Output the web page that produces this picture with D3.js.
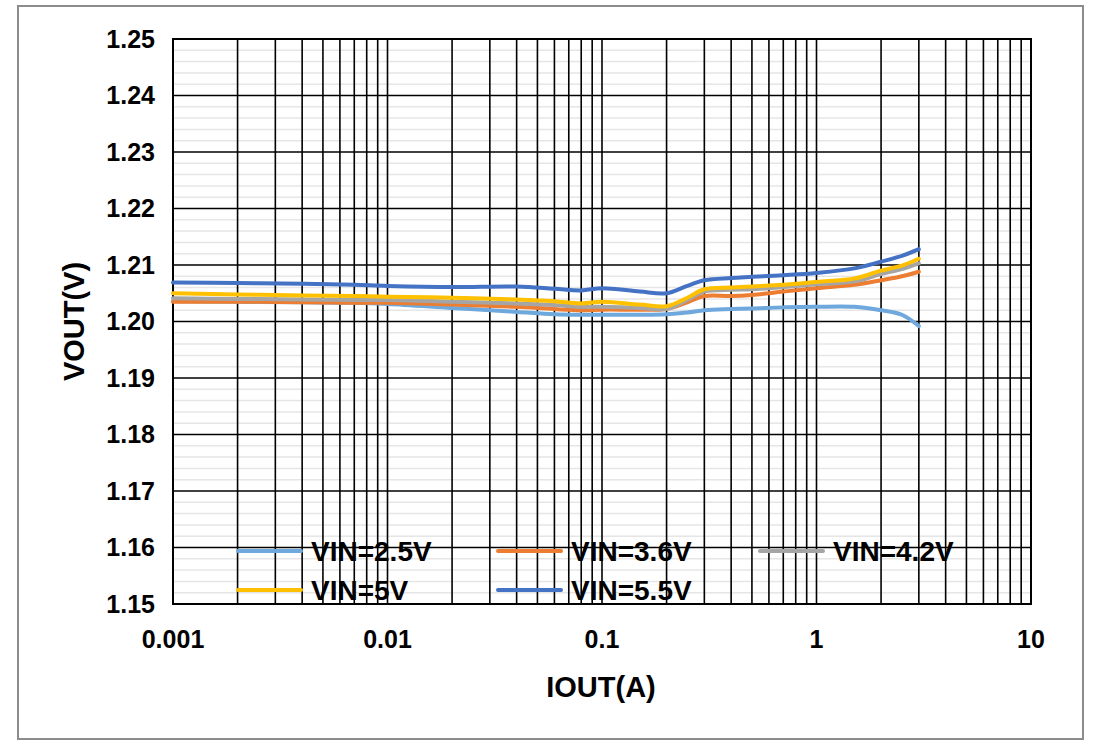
<!DOCTYPE html>
<html>
<head>
<meta charset="utf-8">
<script src="https://cdn.jsdelivr.net/npm/d3@7"></script>
<style>
  body { margin: 0; background: #fff; }
  text { font-family: "Liberation Sans", Arial, sans-serif; font-weight: bold; fill: #000; }
</style>
</head>
<body>
<svg id="chart"></svg>
<script>
// output current (A)
const currents = [0.001, 0.002, 0.004, 0.007, 0.01, 0.02, 0.04, 0.06, 0.08, 0.1, 0.15, 0.2, 0.25, 0.3, 0.4, 0.5, 0.7, 1, 1.5, 2, 2.5, 3];

const vin25 = [1.2036, 1.2035, 1.2034, 1.2033, 1.2031, 1.2024, 1.2017, 1.2013, 1.2012, 1.2012, 1.2012, 1.2013, 1.2016, 1.2020, 1.2022, 1.2023, 1.2025, 1.2026, 1.2026, 1.2020, 1.2012, 1.1992];
const vin36 = [1.2035, 1.2035, 1.2034, 1.2033, 1.2033, 1.2030, 1.2026, 1.2022, 1.2020, 1.2021, 1.2021, 1.2022, 1.2034, 1.2045, 1.2045, 1.2047, 1.2053, 1.2059, 1.2065, 1.2073, 1.2080, 1.2088];
const vin42 = [1.2041, 1.2040, 1.2039, 1.2038, 1.2038, 1.2035, 1.2032, 1.2029, 1.2026, 1.2026, 1.2024, 1.2022, 1.2038, 1.2053, 1.2056, 1.2057, 1.2061, 1.2066, 1.2071, 1.2084, 1.2093, 1.2103];
const vin50 = [1.2050, 1.2048, 1.2046, 1.2045, 1.2044, 1.2042, 1.2039, 1.2036, 1.2032, 1.2035, 1.2030, 1.2027, 1.2042, 1.2057, 1.2060, 1.2062, 1.2065, 1.2070, 1.2076, 1.2090, 1.2099, 1.2111];
const vin55 = [1.2069, 1.2068, 1.2067, 1.2065, 1.2063, 1.2061, 1.2062, 1.2058, 1.2055, 1.2059, 1.2053, 1.2050, 1.2063, 1.2073, 1.2077, 1.2079, 1.2082, 1.2086, 1.2094, 1.2106, 1.2116, 1.2128];

const seriesNames = ["VIN=2.5V", "VIN=3.6V", "VIN=4.2V", "VIN=5V", "VIN=5.5V"];
const seriesColors = ["#6fa8dc", "#ed7d31", "#a5a5a5", "#ffc000", "#4472c4"];
const seriesValues = [vin25, vin36, vin42, vin50, vin55];

const xTickValues = [0.001, 0.01, 0.1, 1, 10];
const xTickLabels = ["0.001", "0.01", "0.1", "1", "10"];
const yTickValues = [1.15, 1.16, 1.17, 1.18, 1.19, 1.20, 1.21, 1.22, 1.23, 1.24, 1.25];

const W = 1102, H = 749;
const M = { top: 39, right: 71, bottom: 145, left: 173 };

const svg = d3.select("#chart")
  .attr("width", W)
  .attr("height", H);

// outer frame
svg.append("rect")
  .attr("x", 18).attr("y", 6)
  .attr("width", 1065).attr("height", 733)
  .attr("fill", "#fff")
  .attr("stroke", "#8c8c8c")
  .attr("stroke-width", 2);

const x = d3.scaleLog()
  .domain([0.001, 10])
  .range([M.left, W - M.right]);

const y = d3.scaleLinear()
  .domain([1.15, 1.25])
  .range([H - M.bottom, M.top]);

// minor horizontal grid
const yMinor = d3.range(0, 51).map(i => 1.15 + i * 0.002).filter((v, i) => i % 5 !== 0);
svg.append("g")
  .selectAll("line")
  .data(yMinor)
  .join("line")
  .attr("x1", M.left).attr("x2", W - M.right)
  .attr("y1", d => y(d)).attr("y2", d => y(d))
  .attr("stroke", "#e6e6e6")
  .attr("stroke-width", 1.5);

// vertical grid (log decades + minors, all black)
svg.append("g")
  .selectAll("line")
  .data(x.ticks())
  .join("line")
  .attr("x1", d => x(d)).attr("x2", d => x(d))
  .attr("y1", M.top).attr("y2", H - M.bottom)
  .attr("stroke", "#000")
  .attr("stroke-width", 1.6);

// major horizontal grid
svg.append("g")
  .selectAll("line")
  .data(yTickValues)
  .join("line")
  .attr("x1", M.left).attr("x2", W - M.right)
  .attr("y1", d => y(d)).attr("y2", d => y(d))
  .attr("stroke", "#000")
  .attr("stroke-width", 1.6);

// plot border
svg.append("rect")
  .attr("x", M.left).attr("y", M.top)
  .attr("width", W - M.right - M.left)
  .attr("height", H - M.bottom - M.top)
  .attr("fill", "none")
  .attr("stroke", "#000")
  .attr("stroke-width", 2);

// tick labels
svg.append("g")
  .selectAll("text")
  .data(yTickValues)
  .join("text")
  .attr("x", 155)
  .attr("y", d => y(d))
  .attr("dy", "0.35em")
  .attr("text-anchor", "end")
  .style("font-size", "25px")
  .text(d => d3.format(".2f")(d));

svg.append("g")
  .selectAll("text")
  .data(xTickValues)
  .join("text")
  .attr("x", d => x(d))
  .attr("y", 648)
  .attr("text-anchor", "middle")
  .style("font-size", "25px")
  .text((d, i) => xTickLabels[i]);

// axis titles
svg.append("text")
  .attr("x", 601)
  .attr("y", 697)
  .attr("text-anchor", "middle")
  .style("font-size", "29px")
  .text("IOUT(A)");

svg.append("text")
  .attr("transform", `translate(84,${(M.top + H - M.bottom) / 2}) rotate(-90)`)
  .attr("text-anchor", "middle")
  .style("font-size", "29px")
  .text("VOUT(V)");

// series
const line = d3.line()
  .x(d => x(d[0]))
  .y(d => y(d[1]))
  .curve(d3.curveCatmullRom.alpha(0.5));

seriesValues.forEach((vals, i) => {
  svg.append("path")
    .datum(currents.map((c, j) => [c, vals[j]]))
    .attr("fill", "none")
    .attr("stroke", seriesColors[i])
    .attr("stroke-width", 4)
    .attr("stroke-linecap", "round")
    .attr("stroke-linejoin", "round")
    .attr("d", line);
});

// legend
const legX = [238, 498, 760];
const legY = [551, 590];
const leg = svg.append("g")
  .selectAll("g")
  .data(seriesNames)
  .join("g")
  .attr("transform", (d, i) => `translate(${legX[i % 3]},${legY[Math.floor(i / 3)]})`);

leg.append("line")
  .attr("x1", 0).attr("x2", 63)
  .attr("stroke", (d, i) => seriesColors[i])
  .attr("stroke-width", 4)
  .attr("stroke-linecap", "round");

leg.append("text")
  .attr("x", 73)
  .attr("dy", "0.36em")
  .style("font-size", "28px")
  .text(d => d);
</script>
</body>
</html>
